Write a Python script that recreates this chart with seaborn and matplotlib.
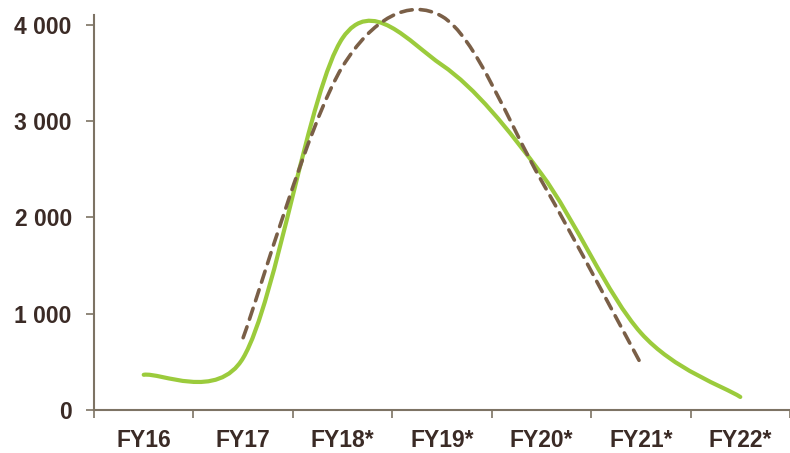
import numpy as np
import matplotlib
matplotlib.use("Agg")
import matplotlib.pyplot as plt
from matplotlib.path import Path
from matplotlib.patches import PathPatch
import seaborn as sns

# data
categories = ["FY16", "FY17", "FY18*", "FY19*", "FY20*", "FY21*", "FY22*"]
green_values = [365, 540, 3860, 3580, 2450, 800, 135]
brown_start = 1  # dashed series starts at FY17
brown_values = [750, 3565, 4085, 2380, 480]

GREEN = "#9BCB3C"
BROWN = "#7A5F47"
TEXT = "#3B2B26"
AXIS = "#7D7364"


def smooth_path(ax, xs, ys):
    # Excel-like smoothed line: bezier pieces built in screen space,
    # handle length capped at half of the segment
    pts = ax.transData.transform(np.column_stack([xs, ys]))
    n = len(pts)
    verts = [pts[0]]
    codes = [Path.MOVETO]
    for i in range(n - 1):
        p0 = pts[i - 1] if i > 0 else pts[i]
        p1, p2 = pts[i], pts[i + 1]
        p3 = pts[i + 2] if i + 2 < n else pts[i + 1]
        d12 = np.hypot(*(p2 - p1))
        d02 = np.hypot(*(p2 - p0))
        d13 = np.hypot(*(p3 - p1))
        f1 = 1 / 6 if d02 / 6 < d12 / 2 else d12 / (2 * d02)
        f2 = 1 / 6 if d13 / 6 < d12 / 2 else d12 / (2 * d13)
        verts += [p1 + (p2 - p0) * f1, p2 - (p3 - p1) * f2, p2]
        codes += [Path.CURVE4] * 3
    verts = ax.transData.inverted().transform(np.array(verts))
    return Path(verts, codes)


sns.set_style("white")
plt.rcParams["font.family"] = ["Liberation Sans", "DejaVu Sans"]

fig, ax = plt.subplots(figsize=(7.9, 4.53), dpi=100)
fig.subplots_adjust(left=0.119, right=1.0, bottom=0.095, top=0.967)

ax.set_xlim(-0.5, 6.46)
ax.set_ylim(0, 4100)

gx = np.arange(len(green_values))
bx = np.arange(len(brown_values)) + brown_start

ax.add_patch(PathPatch(smooth_path(ax, gx, green_values), fill=False, edgecolor=GREEN,
                       lw=3.0, capstyle="round", joinstyle="round", clip_on=False, zorder=3))
ax.add_patch(PathPatch(smooth_path(ax, bx, brown_values), fill=False, edgecolor=BROWN,
                       lw=2.6, linestyle=(0, (3.2, 2.2)), capstyle="round",
                       clip_on=False, zorder=4))

ax.set_yticks([0, 1000, 2000, 3000, 4000])
ax.set_yticklabels([f"{v:,}".replace(",", " ") for v in [0, 1000, 2000, 3000, 4000]])
ax.set_xticks(np.arange(len(categories) + 1) - 0.5)
ax.set_xticklabels([])
ax.set_xticks(np.arange(len(categories)), minor=True)
ax.set_xticklabels(categories, minor=True)

ax.tick_params(axis="y", which="major", direction="out", length=6, width=1.2, color=AXIS,
               labelsize=16.5, labelcolor=TEXT, pad=10, left=True)
ax.tick_params(axis="x", which="major", direction="out", length=6, width=1.2, color=AXIS,
               bottom=True)
ax.tick_params(axis="x", which="minor", length=0, labelsize=16.5, labelcolor=TEXT, pad=14)
for lab in ax.get_yticklabels() + ax.get_xticklabels(minor=True):
    lab.set_fontweight("bold")

sns.despine(ax=ax, top=True, right=True)
for side in ["left", "bottom"]:
    ax.spines[side].set_color(AXIS)
    ax.spines[side].set_linewidth(1.5)
ax.grid(False)

fig.savefig("out.png", dpi=100)
